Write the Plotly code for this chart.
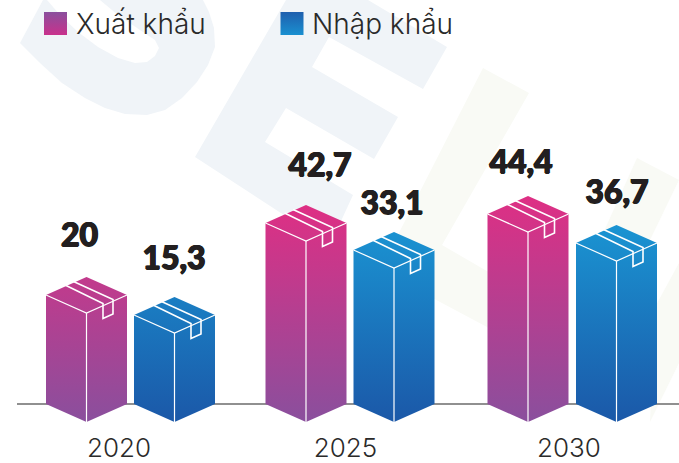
import plotly.graph_objects as go

# ---- data ----
years = ["2020", "2025", "2030"]
xuat_khau = [20, 42.7, 44.4]
nhap_khau = [15.3, 33.1, 36.7]
# The source graphic is not drawn to scale: front-corner heights
xuat_khau_drawn = [109, 181, 190]
nhap_khau_drawn = [89, 154, 161]
series_names = ["Xuất khẩu", "Nhập khẩu"]

# ---- layout (axis units equal pixels) ----
W, H = 679, 463
BASE = 404
PLOT_BOTTOM = 429
def Y(py):
    return BASE - py

xk_centres = [86.5, 306, 528]
nk_centres = [174.5, 394, 616.5]
year_ticks = [119, 345.5, 569]
HALF = 40.5
SLANT = 18

xk_label_pos = [(79.5, 238), (320, 168), (521, 165)]
nk_label_pos = [(174, 261), (392, 206), (617, 195)]

XK_BOTTOM, XK_TOP = (138, 79, 157), (222, 47, 132)
NK_BOTTOM, NK_TOP = (27, 88, 168), (26, 154, 215)
FULL = 218.0

def lerp(a, b, t):
    t = min(t, 1)
    return "rgb(%d,%d,%d)" % tuple(round(a[i] + (b[i] - a[i]) * t) for i in range(3))

def wm_path(pts):
    return "M" + " L".join(f"{x},{Y(y)}" for x, y in pts) + " Z"

S_PTS = [(43, 0), (20, 43), (40, 63), (62, 83), (85, 98), (105, 108), (125, 114), (147, 115), (165, 110),
         (182, 98), (197, 82), (208, 65), (215, 47), (214, 28), (209, 12), (203, 0),
         (100, 0), (118, 15), (140, 30), (155, 40), (159, 48), (155, 56), (147, 62), (135, 63), (118, 58),
         (98, 47), (78, 32), (60, 15), (47, 0)]
E_PTS = [(286, 0), (368, 0), (447, 47), (423, 89), (329, 37), (312, 67), (398, 117), (374, 159),
         (286, 108), (265, 142), (353, 195), (330, 245), (195, 157)]
L_PTS = [(483, 68), (529, 93), (442, 245), (530, 296), (530, 350), (380, 270)]
A1_PTS = [(637, 158), (679, 180), (650, 240), (600, 240)]
A2_PTS = [(679, 263), (655, 307), (650, 422), (679, 363)]

shapes = []
for pts, col in ((S_PTS, "#F0F4F8"), (E_PTS, "#F0F4F8"), (L_PTS, "#F9FAF5"), (A1_PTS, "#F9FAF5"), (A2_PTS, "#F9FAF5")):
    shapes.append(dict(type="path", path=wm_path(pts), fillcolor=col, line_width=0,
                       xref="x", yref="y", layer="below"))

fig = go.Figure()

# baseline
fig.add_trace(go.Scatter(x=[17, W], y=[0, 0], mode="lines", line=dict(color="#6b6b6b", width=1.6),
                         hoverinfo="skip", showlegend=False))

def add_box(cx, h, name, value, c0, c1):
    xs = [cx - HALF, cx - HALF, cx, cx + HALF, cx + HALF, cx, cx - HALF]
    ys = [h, 0, -SLANT, 0, h, h + SLANT, h]
    fig.add_trace(go.Scatter(
        x=xs, y=ys, mode="lines", fill="toself", line=dict(width=0),
        fillgradient=dict(type="vertical",
                          colorscale=[[0, lerp(c0, c1, 0)], [1, lerp(c0, c1, (h + 2 * SLANT) / FULL)]]),
        name=f"{name} {value}", hoverinfo="name", showlegend=False))
    # white edges and the tape on the lid, placed relative to the box
    def seg(width, *paths):
        lx, ly = [], []
        for path in paths:
            for px, py in path:
                lx.append(cx + px)
                ly.append(h + py)
            lx.append(None)
            ly.append(None)
        fig.add_trace(go.Scatter(x=lx, y=ly, mode="lines", line=dict(color="white", width=width),
                                 hoverinfo="skip", showlegend=False))
    seg(1.2, [(-HALF, 0), (0, -SLANT), (HALF, 0)], [(0, -SLANT), (0, -h - SLANT)])
    seg(1.6, [(-21.5, 10), (16.5, -8.5), (16.5, -23.5), (26.5, -19), (26.5, -4.5), (-13, 13.5)])

for i in range(3):
    add_box(xk_centres[i], xuat_khau_drawn[i], series_names[0], xuat_khau[i], XK_BOTTOM, XK_TOP)
    add_box(nk_centres[i], nhap_khau_drawn[i], series_names[1], nhap_khau[i], NK_BOTTOM, NK_TOP)

# value labels
fmt = lambda v: str(v).replace(".", ",")
all_vals = xuat_khau + nhap_khau
all_pos = xk_label_pos + nk_label_pos
fig.add_trace(go.Scatter(
    x=[p[0] for p in all_pos], y=[Y(p[1]) for p in all_pos], mode="text",
    text=[fmt(v) for v in all_vals], textposition="middle center",
    textfont=dict(family="Lato", size=32, color="#231F20", weight=900,
                  shadow="0.7px 0 0 #231F20, -0.7px 0 0 #231F20, 0 0.5px 0 #231F20, 0 -0.5px 0 #231F20"),
    hoverinfo="skip", showlegend=False))

# legend swatches and texts
for sx, top, bottom, tx, name in ((55.5, "rgb(138,79,157)", "rgb(201,49,140)", 76, series_names[0]),
                                  (292, "rgb(31,95,174)", "rgb(26,144,208)", 312, series_names[1])):
    fig.add_trace(go.Scatter(
        x=[sx], y=[Y(23.5)], mode="markers",
        marker=dict(symbol="square", size=23, color=top, line_width=0,
                    gradient=dict(type="vertical", color=bottom)),
        hoverinfo="skip", showlegend=False))
    fig.add_trace(go.Scatter(
        x=[tx], y=[Y(27)], mode="text", text=[name], textposition="middle right",
        textfont=dict(family="Inter", size=28, color="#2A2A2A", weight=300),
        hoverinfo="skip", showlegend=False))

fig.update_layout(
    width=W, height=H, autosize=False,
    margin=dict(l=0, r=0, t=0, b=H - PLOT_BOTTOM, pad=0),
    paper_bgcolor="white", plot_bgcolor="white", showlegend=False,
    shapes=shapes,
    xaxis=dict(range=[0, W], tickvals=year_ticks, ticktext=years, showgrid=False, zeroline=False,
               showline=False, ticks="", ticklabelstandoff=1, automargin=False,
               tickfont=dict(family="Inter", size=26, color="#2A2A2A", weight=300)),
    yaxis=dict(range=[Y(PLOT_BOTTOM), BASE], visible=False, automargin=False),
)
fig.write_html("out.html", config=dict(displayModeBar=False),
               post_script="document.body.style.margin='0';document.documentElement.style.overflow='hidden';")
